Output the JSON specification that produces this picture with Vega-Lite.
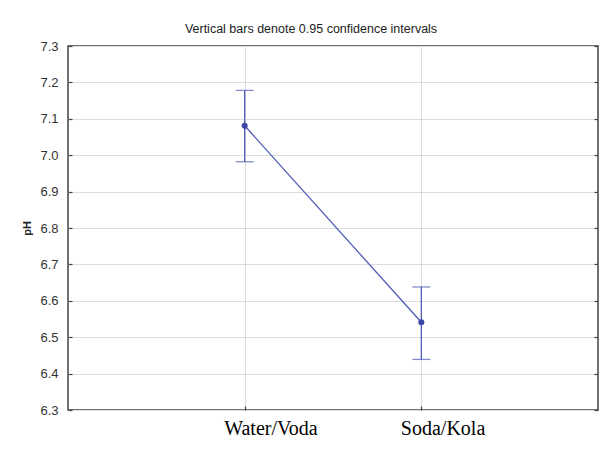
{
  "$schema": "https://vega.github.io/schema/vega-lite/v6.json",
  "autosize": {"type": "none"},
  "padding": {"left": 68, "top": 46, "right": 5, "bottom": 43},
  "width": 530,
  "height": 364,
  "background": "white",
  "title": {"text": "Vertical bars denote 0.95 confidence intervals", "font": "Liberation Sans", "fontSize": 12.5, "fontWeight": "normal", "color": "#222", "offset": 5, "dx": -22},
  "config": {
    "view": {"stroke": "#444", "strokeWidth": 1.5},
    "axis": {"gridColor": "#dcdcdc", "gridWidth": 1, "domain": false}
  },
  "data": {"values": [
    {"g": "Water/Voda", "mean": 7.081, "lo": 6.982, "hi": 7.178},
    {"g": "Soda/Kola", "mean": 6.541, "lo": 6.439, "hi": 6.638}
  ]},
  "encoding": {
    "x": {"field": "g", "type": "nominal", "sort": ["Water/Voda", "Soda/Kola"],
      "scale": {"type": "point", "padding": 1},
      "axis": {"title": null, "labelAngle": 0, "labelFont": "Liberation Serif", "labelFontSize": 20, "labelColor": "#000", "labelAlign": "left", "labelOffset": -21, "tickSize": -4, "tickColor": "#444", "tickWidth": 1.2, "labelPadding": 12, "grid": true}}
  },
  "resolve": {"axis": {"y": "independent"}},
  "layer": [
    {
      "mark": {"type": "line", "color": "#4f5bb5", "strokeWidth": 1.3},
      "encoding": {
        "y": {"field": "mean", "type": "quantitative",
          "scale": {"domain": [6.3, 7.3], "nice": false, "zero": false},
          "axis": {"title": "pH", "titleFont": "Liberation Sans", "titleFontSize": 11, "titleFontWeight": "bold", "titleColor": "#222", "titlePadding": 7,
            "values": [6.3, 6.4, 6.5, 6.6, 6.7, 6.8, 6.9, 7.0, 7.1, 7.2, 7.3], "format": ".1f", "labelOverlap": false,
            "labelFont": "Liberation Sans", "labelFontSize": 13, "labelColor": "#333", "tickSize": -4, "tickColor": "#444", "tickWidth": 1.2, "labelPadding": 14, "grid": true}}
      }
    },
    {
      "mark": {"type": "rule", "color": "#4f5bb5", "strokeWidth": 1.3},
      "encoding": {"y": {"field": "lo", "type": "quantitative", "axis": null}, "y2": {"field": "hi"}}
    },
    {
      "mark": {"type": "tick", "color": "#4f5bb5", "thickness": 1.3, "size": 18, "orient": "horizontal"},
      "encoding": {"y": {"field": "lo", "type": "quantitative", "axis": null}}
    },
    {
      "mark": {"type": "tick", "color": "#4f5bb5", "thickness": 1.3, "size": 18, "orient": "horizontal"},
      "encoding": {"y": {"field": "hi", "type": "quantitative", "axis": null}}
    },
    {
      "mark": {"type": "point", "filled": true, "color": "#3a47a8", "size": 36, "opacity": 1},
      "encoding": {
        "y": {"field": "mean", "type": "quantitative",
          "axis": {"orient": "right", "title": null, "labels": false, "grid": false, "values": [6.3, 6.4, 6.5, 6.6, 6.7, 6.8, 6.9, 7.0, 7.1, 7.2, 7.3], "tickSize": -4, "tickColor": "#444", "tickWidth": 1.2}}
      }
    }
  ]
}
